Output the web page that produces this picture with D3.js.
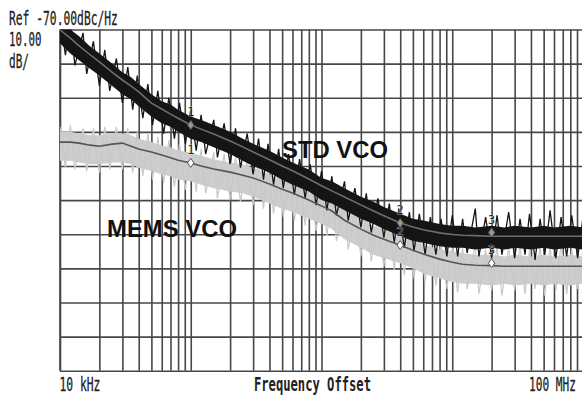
<!DOCTYPE html>
<html>
<head>
<meta charset="utf-8">
<script src="https://cdn.jsdelivr.net/npm/d3@7"></script>
<style>
body { margin: 0; background: #fff; }
svg { display: block; }
</style>
</head>
<body>
<div id="graph"></div>
<script>
// offset frequency samples for the averaged traces, kHz
const freqK = [10,12,14,17,20,25,30,35,40,50,60,70,80,100,120,150,200,250,300,400,
  500,600,800,1000,1200,1500,2000,2500,3000,4000,5000,6000,8000,10000,12000,15000,
  20000,25000,30000,40000,50000,60000,80000,100000];

// STD VCO: averaged trace and the dense core of the raw trace, dBc/Hz
const stdLine = [-70.1,-72.5,-74.8,-77.4,-79.5,-82.5,-84.8,-86.6,-88.3,-91.6,-93.3,-94.8,-96.0,-98.0,-99.2,-100.6,-102.7,-104.4,-105.9,-108.2,
  -110.0,-111.4,-113.8,-115.8,-117.3,-119.1,-121.4,-123.2,-124.6,-126.7,-127.9,-128.7,-129.6,-130.1,-130.3,-130.4,-130.6,-130.6,-130.6,-130.6,-130.6,-130.6,-130.6,-130.6];
const stdHi = [-67.5,-70.0,-72.0,-75.0,-77.0,-80.0,-82.5,-84.0,-86.0,-89.0,-91.0,-92.0,-93.5,-95.5,-96.5,-98.0,-100.0,-102.0,-103.5,-105.5,
  -107.5,-109.0,-111.0,-113.5,-114.5,-116.5,-119.0,-120.5,-122.0,-124.0,-125.5,-126.0,-127.0,-127.5,-127.5,-128.0,-127.5,-128.0,-127.5,-128.0,-127.5,-128.0,-127.5,-128.0];
const stdLo = [-74.0,-77.0,-79.0,-81.5,-83.5,-86.5,-89.0,-90.5,-92.5,-95.5,-97.5,-98.5,-100.0,-102.0,-103.0,-104.5,-106.5,-108.5,-110.0,-112.0,
  -114.0,-115.5,-117.5,-120.0,-121.0,-123.0,-125.5,-127.0,-128.5,-130.5,-132.0,-132.5,-133.5,-134.0,-134.0,-134.5,-134.0,-134.5,-134.0,-134.5,-134.0,-134.5,-134.0,-134.5];

// MEMS VCO
const memsLine = [-103.0,-103.0,-103.3,-103.9,-104.2,-103.6,-103.3,-104.2,-105.0,-105.9,-106.8,-107.6,-108.3,-109.1,-110.0,-110.9,-111.8,-112.7,-113.5,-115.3,
  -116.8,-117.9,-120.0,-121.7,-123.2,-125.9,-128.5,-130.3,-131.5,-133.2,-134.7,-135.8,-137.3,-138.2,-138.8,-139.1,-139.2,-139.4,-139.4,-139.4,-139.4,-139.4,-139.4,-139.4];
const memsHi = [-100.0,-100.0,-100.5,-101.0,-101.0,-100.5,-100.5,-101.0,-102.0,-103.0,-104.0,-104.5,-105.5,-106.0,-107.0,-108.0,-109.0,-109.5,-110.5,-112.5,
  -114.0,-115.0,-117.0,-118.5,-120.0,-123.0,-125.5,-127.5,-128.5,-130.0,-131.5,-133.0,-134.5,-135.0,-135.5,-136.0,-136.0,-136.5,-136.0,-136.5,-136.0,-136.5,-136.0,-136.5];
const memsLo = [-108.5,-108.5,-109.0,-109.5,-109.5,-109.0,-109.0,-109.5,-110.5,-111.5,-112.5,-113.0,-114.0,-114.5,-115.5,-116.5,-117.5,-118.0,-119.0,-121.0,
  -122.5,-123.5,-125.5,-127.0,-128.5,-131.5,-134.0,-136.0,-137.0,-138.5,-140.0,-141.5,-143.0,-144.0,-144.5,-144.5,-145.0,-144.5,-145.0,-144.5,-145.0,-144.5,-145.0,-144.5];

// raw (noisy) sweep points, kHz
const traceK = [10,11,12,13,15,16,18,20,22,24,27,30,33,36,39,43,47,51,56,62,68,75,82,91,
  100,110,120,130,150,160,180,200,220,240,270,300,330,360,390,430,470,510,560,620,680,750,820,910,
  1000,1100,1200,1300,1500,1600,1800,2000,2200,2400,2700,3000,3300,3600,3900,4300,4700,5100,5600,6200,6800,7500,8200,9100,
  10000,11000,12000,13000,15000,16000,18000,20000,22000,24000,27000,30000,33000,36000,39000,43000,47000,51000,56000,62000,68000,75000,82000,91000,
  100000];
const stdTrace = [-66.0,-77.5,-68.0,-80.5,-71.0,-83.0,-73.5,-86.5,-76.0,-88.0,-78.5,-91.5,-81.0,-93.5,-83.5,-96.0,-86.0,-98.0,-88.0,-100.5,-90.0,-102.0,-91.5,-103.5,
  -93.5,-105.5,-95.0,-106.5,-96.5,-107.5,-97.5,-109.5,-99.0,-110.5,-100.5,-112.5,-102.0,-114.0,-103.5,-115.5,-105.0,-116.5,-106.5,-118.5,-108.0,-119.5,-109.5,-121.5,
  -111.5,-123.0,-113.0,-124.5,-114.5,-126.0,-116.5,-128.0,-118.0,-129.5,-119.5,-131.0,-121.0,-132.5,-122.5,-134.0,-123.5,-135.0,-124.0,-136.0,-125.0,-136.0,-125.5,-136.5,
  -124.5,-136.5,-125.5,-135.5,-122.5,-136.5,-125.0,-137.0,-124.5,-136.0,-123.5,-137.0,-125.5,-136.0,-124.0,-137.5,-125.5,-136.0,-123.0,-137.0,-125.0,-136.5,-124.5,-137.0,
  -125.0];
const memsTrace = [-98.5,-110.5,-98.0,-111.0,-99.0,-111.5,-99.0,-112.0,-98.5,-111.0,-98.5,-111.0,-99.0,-112.0,-100.0,-113.0,-100.5,-114.0,-101.5,-115.0,-102.5,-116.0,-103.5,-117.0,
  -104.0,-117.5,-105.0,-118.0,-106.0,-119.5,-106.5,-120.0,-107.0,-120.5,-108.0,-121.5,-109.0,-122.5,-110.0,-124.0,-111.0,-125.0,-112.0,-126.0,-113.5,-127.5,-115.0,-129.0,
  -116.5,-130.5,-118.0,-132.0,-120.5,-134.5,-122.5,-136.5,-124.0,-138.0,-125.5,-139.5,-127.0,-140.5,-128.0,-142.0,-129.0,-143.0,-130.5,-144.0,-131.5,-145.0,-132.5,-146.0,
  -133.5,-147.0,-134.0,-146.0,-133.0,-147.5,-134.5,-146.5,-133.5,-148.0,-134.0,-146.5,-133.0,-147.5,-134.5,-146.0,-133.5,-148.0,-134.0,-146.5,-133.0,-147.5,-134.5,-146.0,
  -134.0];

// markers
const markerFreqK = [100, 4000, 20000];
const markerLabels = ["1", "2", "3"];
const stdMarkerDb = [-98.0, -126.7, -129.5];
const memsMarkerDb = [-109.1, -133.2, -138.5];

const graph = document.getElementById('graph');
graph.innerHTML = '<svg width="582" height="398"></svg>';
const svg = d3.select('svg');

const margin = {left: 60, right: 583, top: 29.5, bottom: 370.7};

const x = d3.scaleLog().domain([10, 100000]).range([margin.left, margin.right]);
const y = d3.scaleLinear().domain([-70, -170]).range([margin.top, margin.bottom]);

svg.append("clipPath").attr("id", "plot")
  .append("rect").attr("x", margin.left).attr("y", margin.top)
  .attr("width", margin.right - margin.left).attr("height", margin.bottom - margin.top);

// grid
svg.append("g")
  .attr("transform", "translate(0," + margin.bottom + ")")
  .call(d3.axisBottom(x).ticks(40).tickSize(-(margin.bottom - margin.top)).tickFormat(""))
  .call(g => g.select(".domain").remove())
  .selectAll("line").attr("stroke", "#474747").attr("stroke-width", 1.6);

svg.append("g")
  .attr("transform", "translate(" + margin.left + ",0)")
  .call(d3.axisLeft(y).tickValues(d3.range(-70, -171, -10)).tickSize(-(margin.right - margin.left)).tickFormat(""))
  .call(g => g.select(".domain").remove())
  .selectAll("line").attr("stroke", "#474747").attr("stroke-width", 1.6);

svg.append("line").attr("x1", margin.left).attr("x2", margin.left)
  .attr("y1", margin.top).attr("y2", margin.bottom)
  .attr("stroke", "#474747").attr("stroke-width", 1.6);

const plot = svg.append("g").attr("clip-path", "url(#plot)");

const idx = d3.range(freqK.length);
const tIdx = d3.range(traceK.length);
const band = (hi, lo) => d3.area()
  .x(i => x(freqK[i])).y0(i => y(lo[i])).y1(i => y(hi[i]));
const line = vals => d3.line().x(i => x(freqK[i])).y(i => y(vals[i]));
const raw = vals => d3.line().x(i => x(traceK[i])).y(i => y(vals[i]));

// MEMS raw sweep (light grey)
plot.append("path").datum(idx).attr("d", band(memsHi, memsLo))
  .attr("fill", "#cdcdcd");
plot.append("path").datum(tIdx).attr("d", raw(memsTrace))
  .attr("fill", "none").attr("stroke", "#c8c8c8").attr("stroke-width", 1.2);

// STD raw sweep (black)
plot.append("path").datum(idx).attr("d", band(stdHi, stdLo))
  .attr("fill", "#151515");
plot.append("path").datum(tIdx).attr("d", raw(stdTrace))
  .attr("fill", "none").attr("stroke", "#151515").attr("stroke-width", 1.3);

// averaged traces
plot.append("path").datum(idx).attr("d", line(memsLine))
  .attr("fill", "none").attr("stroke", "#555").attr("stroke-width", 1.6);
plot.append("path").datum(idx).attr("d", line(stdLine))
  .attr("fill", "none").attr("stroke", "#6e6e6e").attr("stroke-width", 1.6);

// markers
const drawMarkers = (vals, fill) => {
  const m = plot.selectAll(null).data(d3.range(markerFreqK.length)).enter().append("g")
    .attr("transform", i => "translate(" + x(markerFreqK[i]) + "," + y(vals[i]) + ")");
  m.append("path").attr("d", "M0,-4.5L3.2,0L0,4.5L-3.2,0Z")
    .attr("fill", fill).attr("stroke", "#555").attr("stroke-width", 1);
  m.append("text").attr("y", -9).attr("text-anchor", "middle")
    .attr("font-family", "DejaVu Sans Mono").attr("font-size", 12).attr("fill", "#222")
    .attr("stroke", "#fff").attr("stroke-width", 0.5).attr("paint-order", "stroke")
    .text(i => markerLabels[i]);
};
drawMarkers(stdMarkerDb, "#999");
drawMarkers(memsMarkerDb, "#fff");

// curve labels
const big = (t, px, py, len) => svg.append("text").attr("x", px).attr("y", py)
  .attr("font-family", "Liberation Sans, Arial").attr("font-weight", "bold")
  .attr("font-size", 23).attr("fill", "#111")
  .attr("textLength", len).attr("lengthAdjust", "spacingAndGlyphs").text(t);
big("STD VCO", 282, 158, 106);
big("MEMS VCO", 107, 236.5, 130);

// instrument annotations: tall, narrow analyser font
const mono = (t, px, py, len, bold) => {
  const txt = svg.append("text")
    .attr("font-family", "DejaVu Sans Mono").attr("font-size", 19)
    .attr("font-weight", bold ? "bold" : "normal").attr("fill", "#222")
    .attr("stroke", "#222").attr("stroke-width", bold ? 0 : 0.3)
    .text(t);
  const w = txt.node().getComputedTextLength();
  txt.attr("transform", "translate(" + px + "," + py + ") scale(" + (len / w) + ",1)");
};
mono("Ref -70.00dBc/Hz", 9, 24.5, 109);
mono("10.00", 9, 46, 32.5);
mono("dB/", 9, 68, 20);
mono("10 kHz", 59.5, 391, 41);
mono("Frequency Offset", 254, 391, 117, true);
mono("100 MHz", 529, 391, 47);
</script>
</body>
</html>
